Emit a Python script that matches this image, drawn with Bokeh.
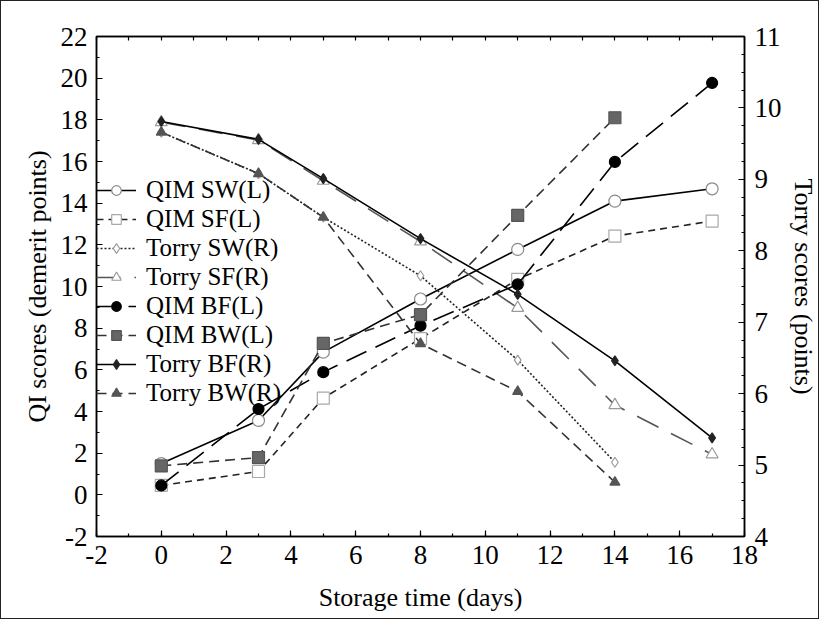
from bokeh.plotting import figure
from bokeh.models import (Range1d, LinearAxis, SingleIntervalTicker, FixedTicker, Legend,
                          LegendItem, PrintfTickFormatter)
from bokeh.embed import file_html
from bokeh.resources import INLINE

days = [0, 3, 5, 8, 11, 14, 17]
days14 = [0, 3, 5, 8, 11, 14]

qim_sw = [1.5, 3.57, 6.85, 9.40, 11.78, 14.10, 14.69]
qim_sf = [0.45, 1.12, 4.64, 7.5, 10.34, 12.42, 13.14]
torry_sw = [9.66, 9.08, 8.47, 7.65, 6.47, 5.04]
torry_sf = [9.80, 9.55, 8.98, 8.13, 7.20, 5.84, 5.15]
qim_bf = [0.45, 4.12, 5.89, 8.12, 10.10, 15.98, 19.77]
qim_bw = [1.39, 1.79, 7.27, 8.65, 13.41, 18.10]
torry_bf = [9.81, 9.56, 9.01, 8.17, 7.39, 6.46, 5.38]
torry_bw = [9.66, 9.08, 8.47, 6.70, 6.03, 4.76]

top_ticks = list(range(-2, 19))

FONT = "Liberation Serif"

p = figure(width=819, height=619, output_backend="svg", toolbar_location=None,
           x_range=Range1d(-2, 18), y_range=Range1d(-2, 22),
           min_border_left=95, min_border_right=73, min_border_top=35, min_border_bottom=84,
           x_axis_location=None, y_axis_location=None)
p.extra_y_ranges = {"right": Range1d(4, 11)}
p.xgrid.visible = False
p.ygrid.visible = False
p.outline_line_color = "black"
p.outline_line_width = 1.5
p.background_fill_color = "white"
p.border_fill_color = "white"

def style_axis(ax):
    ax.major_tick_in = 6
    ax.major_tick_out = 0
    ax.minor_tick_in = 3
    ax.minor_tick_out = 0
    ax.axis_line_width = 1.5
    ax.major_tick_line_width = 1.2
    ax.minor_tick_line_width = 1.2
    ax.major_label_text_font = FONT
    ax.major_label_text_font_size = "27px"
    ax.major_label_text_color = "black"
    ax.axis_label_text_font = FONT
    ax.axis_label_text_font_size = "26px"
    ax.axis_label_text_font_style = "normal"
    ax.axis_label_text_color = "black"
    ax.major_label_standoff = 9
    ax.formatter = PrintfTickFormatter(format="%d")

xb = LinearAxis(axis_label="Storage time (days)",
                ticker=SingleIntervalTicker(interval=2, num_minor_ticks=2))
style_axis(xb)
xb.axis_label_standoff = 16
p.add_layout(xb, "below")

xt = LinearAxis(ticker=FixedTicker(ticks=[], minor_ticks=top_ticks))
style_axis(xt)
xt.minor_tick_in = 4
xt.major_label_standoff = 0
p.add_layout(xt, "above")

yl = LinearAxis(axis_label="QI scores (demerit points)",
                ticker=SingleIntervalTicker(interval=2, num_minor_ticks=2))
style_axis(yl)
yl.axis_label_standoff = 6
p.add_layout(yl, "left")

yr = LinearAxis(y_range_name="right", axis_label="Torry scores (points)",
                ticker=SingleIntervalTicker(interval=1, num_minor_ticks=4))
style_axis(yr)
yr.major_label_standoff = 10
yr.axis_label_standoff = 4
p.add_layout(yr, "right")

items = []

def series(label, xs, ys, rng, line_color, dash, marker, size, fill, mline, lw=1.6):
    kw = {} if rng is None else {"y_range_name": rng}
    l = p.line(xs, ys, line_color=line_color, line_dash=dash, line_width=lw, **kw)
    s = p.scatter(xs, ys, marker=marker, size=size, fill_color=fill, line_color=mline, line_width=1.2, **kw)
    items.append(LegendItem(label=label, renderers=[l, s]))

series("QIM SW(L)", days, qim_sw, None, "black", "solid", "circle", 12, "white", "#8a8a8a")
series("QIM SF(L)", days, qim_sf, None, "#222222", "7 5", "square", 12, "white", "#a8a8a8")
series("Torry SW(R)", days14, torry_sw, "right", "#222222", "2 2", "diamond", 10, "white", "#9a9a9a")
series("Torry SF(R)", days, torry_sf, "right", "#555555", "24 14", "triangle", 12, "white", "#9a9a9a")
series("QIM BF(L)", days, qim_bf, None, "black", "22 10", "circle", 11, "black", "black")
series("QIM BW(L)", days14, qim_bw, None, "#333333", "10 6", "square", 12, "#666666", "#555555")
series("Torry BF(R)", days, torry_bf, "right", "black", "solid", "diamond", 10, "#222222", "#222222")
series("Torry BW(R)", days14, torry_bw, "right", "#333333", "10 6", "triangle", 10, "#555555", "#555555")

legend = Legend(items=items, location=(0, 129), orientation="vertical")
legend.label_text_font = FONT
legend.label_text_font_size = "25px"
legend.label_text_color = "black"
legend.glyph_width = 40
legend.glyph_height = 24
legend.label_height = 24
legend.spacing = 1
legend.padding = 0
legend.margin = 0
legend.label_standoff = 10
legend.background_fill_alpha = 0
legend.border_line_alpha = 0
p.add_layout(legend, "center")

p.styles = {"border": "1px solid #222"}

open("out.html", "w").write(file_html(p, INLINE))
